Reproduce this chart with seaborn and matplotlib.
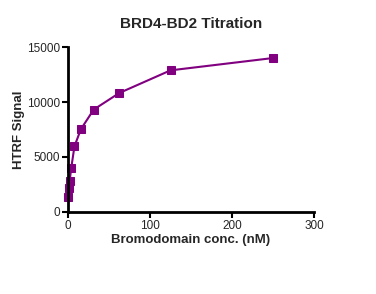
import matplotlib
matplotlib.use("Agg")
import matplotlib.pyplot as plt
import seaborn as sns
import pandas as pd

conc_nM = [0.49, 0.98, 1.95, 3.9, 7.8, 15.6, 31.25, 62.5, 125, 250]
htrf_signal = [1360, 2180, 2820, 4000, 5970, 7520, 9310, 10820, 12880, 14000]
x_ticks = [0, 100, 200, 300]
y_ticks = [0, 5000, 10000, 15000]

sns.set_style("ticks")
plt.rcParams['font.family'] = ['Liberation Sans', 'DejaVu Sans']

df = pd.DataFrame({"conc": conc_nM, "signal": htrf_signal})

fig = plt.figure(figsize=(3.76, 2.94), dpi=100)
ax = fig.add_axes([0.181, 0.279, 0.654, 0.561])
sns.lineplot(data=df, x="conc", y="signal", ax=ax, color="#800080",
             marker="s", markersize=6, markeredgecolor="#800080",
             linewidth=1.5, clip_on=False)
ax.set_xlim(0, 300)
ax.set_ylim(0, 15000)
ax.set_xticks(x_ticks)
ax.set_yticks(y_ticks)
ax.tick_params(labelsize=8.5, width=1.5, length=4, color="black", pad=1.5)
for s in ["top", "right"]:
    ax.spines[s].set_visible(False)
for s in ["left", "bottom"]:
    ax.spines[s].set_linewidth(2)
    ax.spines[s].set_color("black")
ax.set_xlabel("Bromodomain conc. (nM)", fontsize=9.5, fontweight="bold", labelpad=2)
ax.set_ylabel("HTRF Signal", fontsize=9.5, fontweight="bold", labelpad=2)
ax.set_title("BRD4-BD2 Titration", fontsize=11, fontweight="bold", pad=14)
fig.savefig("out.png", dpi=100)
